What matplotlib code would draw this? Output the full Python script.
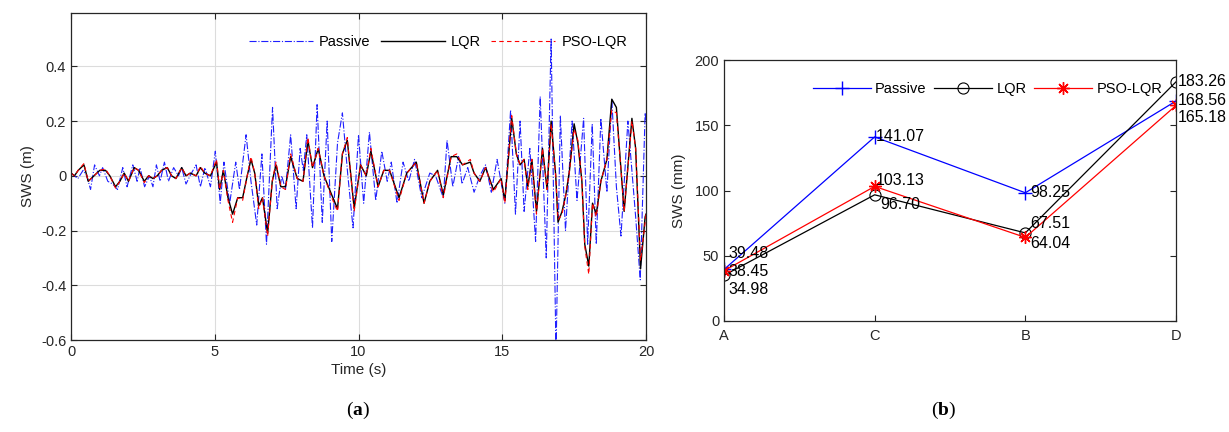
import matplotlib
matplotlib.use("Agg")
import matplotlib.pyplot as plt
import numpy as np

plt.rcParams['font.family'] = ['Liberation Sans', 'DejaVu Sans']
plt.rcParams['mathtext.fontset'] = 'custom'
plt.rcParams['mathtext.rm'] = 'Liberation Serif'
plt.rcParams['mathtext.bf'] = 'Liberation Serif:bold'

# ---------------- (a) time history ----------------
passive_t = [0.0, 0.12, 0.24, 0.42, 0.55, 0.68, 0.82, 0.99, 1.1, 1.28, 1.45, 1.62, 1.8, 1.95,
             2.15, 2.3, 2.4, 2.56, 2.73, 2.85, 2.97, 3.1, 3.25, 3.39, 3.57, 3.74, 3.85, 4.0,
             4.14, 4.35, 4.5, 4.66, 4.85, 5.02, 5.19, 5.32, 5.52, 5.73, 5.86, 6.09, 6.26,
             6.46, 6.64, 6.80, 7.01, 7.17, 7.33, 7.46, 7.64, 7.83, 7.97, 8.08, 8.2, 8.40,
             8.56, 8.74, 8.91, 9.07, 9.27, 9.44, 9.63, 9.81, 10.0, 10.18, 10.38, 10.6,
             10.81, 11.0, 11.14, 11.34, 11.55, 11.75, 11.95, 12.2, 12.48, 12.68, 12.95,
             13.08, 13.28, 13.48, 13.6, 13.8, 14.02, 14.22, 14.42, 14.62, 14.82, 15.09,
             15.29, 15.46, 15.62, 15.76, 15.96, 16.16, 16.32, 16.53, 16.70, 16.87, 17.02,
             17.20, 17.43, 17.6, 17.83, 17.97, 18.13, 18.27, 18.43, 18.64, 18.81, 18.97,
             19.13, 19.37, 19.64, 19.80, 19.97, 20.0]
passive_v = [0.01, 0.0, -0.01, 0.02, 0.0, -0.05, 0.04, 0.0, 0.03, -0.02, -0.03, -0.05, 0.03, -0.04,
             0.04, -0.02, 0.03, -0.04, 0.0, -0.04, 0.04, -0.02, 0.05, -0.02, 0.03, 0.0, 0.03, -0.03,
             0.0, 0.04, -0.04, 0.03, -0.04, 0.09, -0.1, 0.05, -0.1, 0.05, -0.05, 0.15, -0.02,
             -0.18, 0.08, -0.25, 0.25, -0.12, 0.0, -0.05, 0.15, -0.12, 0.1, 0.02, 0.15, -0.19,
             0.26, -0.17, 0.2, -0.24, 0.12, 0.23, 0.0, -0.19, 0.15, -0.1, 0.16, -0.09,
             0.09, -0.02, 0.05, -0.1, 0.05, -0.02, 0.06, -0.08, 0.01, 0.0, -0.08,
             0.13, -0.04, 0.07, -0.03, 0.03, -0.06, 0.0, 0.04, -0.06, 0.06, -0.1,
             0.24, -0.14, 0.2, -0.13, 0.1, -0.24, 0.29, -0.3, 0.5, -0.65, 0.22,
             -0.2, 0.2, -0.09, 0.21, -0.25, 0.19, -0.25, 0.21, -0.06, 0.28, -0.04,
             -0.22, 0.2, -0.15, -0.38, 0.23, 0.2]

ctrl_t = [0.0, 0.12, 0.25, 0.45, 0.6, 0.8, 1.0, 1.2, 1.35, 1.55, 1.7, 1.85, 2.0, 2.2, 2.35,
          2.55, 2.7, 2.85, 3.0, 3.15, 3.35, 3.5, 3.65, 3.85, 4.0, 4.15, 4.35, 4.5, 4.65, 4.85,
          5.06, 5.17, 5.3, 5.46, 5.62, 5.8, 5.97, 6.13, 6.26, 6.39, 6.53, 6.66, 6.84, 7.0,
          7.13, 7.3, 7.46, 7.64, 7.87, 8.07, 8.24, 8.4, 8.6, 8.8, 9.07, 9.27, 9.44, 9.61,
          9.85, 10.07, 10.27, 10.43, 10.68, 10.88, 11.08, 11.41, 11.68, 12.01, 12.28, 12.48,
          12.75, 12.95, 13.22, 13.42, 13.62, 13.89, 14.02, 14.22, 14.42, 14.69, 14.96, 15.09,
          15.33, 15.49, 15.62, 15.76, 15.89, 16.03, 16.19, 16.40, 16.56, 16.70, 16.86, 16.94,
          17.08, 17.21, 17.34, 17.50, 17.63, 17.77, 17.87, 18.01, 18.14, 18.27, 18.43, 18.64,
          18.81, 18.97, 19.11, 19.24, 19.51, 19.64, 19.81, 19.97, 20.0]
lqr_v = [0.01, 0.0, 0.02, 0.04, -0.02, 0.0, 0.02, 0.02, 0.0, -0.04, -0.02, 0.01, -0.02, 0.03, 0.02,
         -0.02, 0.0, -0.01, 0.0, 0.02, 0.03, 0.0, -0.01, 0.03, 0.0, 0.01, 0.0, 0.03, 0.01, 0.0,
         0.05, -0.05, 0.02, -0.08, -0.14, -0.08, -0.08, 0.0, 0.06, 0.01, -0.11, -0.08, -0.21, -0.02,
         0.04, -0.04, -0.04, 0.07, -0.01, -0.02, 0.13, 0.03, 0.1, 0.0, -0.07, -0.12, 0.08, 0.13,
         -0.12, 0.04, 0.0, 0.09, -0.04, 0.02, 0.02, -0.08, 0.01, 0.05, -0.1, -0.02,
         0.02, -0.07, 0.07, 0.07, 0.04, 0.05, 0.01, -0.02, 0.03, -0.05, -0.01, -0.09,
         0.21, 0.08, 0.04, 0.06, -0.04, 0.06, -0.13, 0.1, -0.05, 0.2, 0.0, -0.17,
         -0.13, -0.07, 0.02, 0.19, 0.12, -0.02, -0.25, -0.33, -0.1, -0.14, -0.02, 0.06,
         0.28, 0.25, 0.05, -0.13, 0.21, 0.1, -0.34, -0.15, -0.14]
pso_v = [0.01, 0.0, 0.02, 0.045, -0.02, 0.0, 0.02, 0.025, 0.0, -0.045, -0.02, 0.01, -0.02, 0.03, 0.02,
         -0.025, 0.0, -0.01, 0.0, 0.02, 0.03, 0.0, -0.01, 0.03, 0.0, 0.01, 0.0, 0.035, 0.01, 0.0,
         0.06, -0.05, 0.02, -0.09, -0.17, -0.08, -0.09, 0.0, 0.07, 0.01, -0.12, -0.08, -0.22, -0.02,
         0.05, -0.04, -0.05, 0.08, -0.01, -0.02, 0.14, 0.03, 0.1, 0.0, -0.08, -0.13, 0.08, 0.14,
         -0.13, 0.04, 0.0, 0.1, -0.04, 0.02, 0.02, -0.09, 0.01, 0.05, -0.1, -0.02,
         0.02, -0.08, 0.07, 0.08, 0.04, 0.06, 0.01, -0.02, 0.03, -0.06, -0.01, -0.1,
         0.22, 0.08, 0.04, 0.06, -0.05, 0.06, -0.14, 0.1, -0.05, 0.19, 0.0, -0.16,
         -0.14, -0.07, 0.02, 0.17, 0.13, -0.02, -0.26, -0.36, -0.1, -0.15, -0.02, 0.06,
         0.24, 0.23, 0.05, -0.13, 0.2, 0.1, -0.31, -0.17, -0.14]

# ---------------- (b) peak values ----------------
cases = ['A', 'C', 'B', 'D']
peak_passive = [39.48, 141.07, 98.25, 168.56]
peak_lqr = [34.98, 96.70, 67.51, 183.26]
peak_pso = [38.45, 103.13, 64.04, 165.18]

W, H = 1229, 432
fig = plt.figure(figsize=(W / 100, H / 100), dpi=100)

def px_axes(x0, y0, x1, y1):
    return fig.add_axes([x0 / W, 1 - y1 / H, (x1 - x0) / W, (y1 - y0) / H])

tick_fs = 10.5

# ---- left axes
ax1 = px_axes(71, 13, 646, 340)
ax1.plot(passive_t, passive_v, color='#1f1fff', linestyle='-.', lw=0.8, label='Passive')
ax1.plot(ctrl_t, lqr_v, color='black', linestyle='-', lw=1.0, label='LQR')
ax1.plot(ctrl_t, pso_v, color='red', linestyle=(0, (4, 3)), lw=0.8, label='PSO-LQR')
ax1.set_xlim(0, 20)
ax1.set_ylim(-0.6, 0.595)
ax1.set_xticks([0, 5, 10, 15, 20])
ax1.set_yticks([-0.6, -0.4, -0.2, 0, 0.2, 0.4])
ax1.set_yticklabels(['-0.6', '-0.4', '-0.2', '0', '0.2', '0.4'])
ax1.grid(True, color='#dcdcdc', lw=0.8)
ax1.set_axisbelow(True)
ax1.tick_params(direction='in', top=True, right=True, labelsize=tick_fs, length=4, width=0.8,
                colors='#262626')
for s in ax1.spines.values():
    s.set_linewidth(0.9)
    s.set_color('#262626')
ax1.set_xlabel('Time (s)', fontsize=11, color='#262626', labelpad=3)
ax1.set_ylabel('SWS (m)', fontsize=11, color='#262626', labelpad=4)
ax1.legend(loc='upper right', ncol=3, frameon=False, fontsize=10.5, handlelength=4.4,
           columnspacing=0.7, handletextpad=0.4, bbox_to_anchor=(0.985, 0.965), borderaxespad=0.3)

# ---- right axes
ax2 = px_axes(724, 60, 1176, 321)
xi = np.arange(len(cases))
ax2.plot(xi, peak_passive, color='blue', lw=0.9, marker='+', ms=10, mew=1.0, label='Passive')
ax2.plot(xi, peak_lqr, color='black', lw=0.9, marker='o', ms=8, mfc='none', mew=0.8, label='LQR')
ax2.plot(xi, peak_pso, color='red', lw=0.9, marker=(8, 2, 0), ms=9, mew=1.0, label='PSO-LQR')
ax2.set_xlim(0, 3)
ax2.set_ylim(0, 200)
ax2.set_xticks(xi)
ax2.set_xticklabels(cases)
ax2.set_yticks([0, 50, 100, 150, 200])
ax2.tick_params(direction='in', top=False, right=True, labelsize=tick_fs, length=4, width=0.8,
                colors='#262626')
ax2.tick_params(axis='x', pad=6)
for s in ax2.spines.values():
    s.set_linewidth(0.9)
    s.set_color('#262626')
ax2.set_ylabel('SWS (mm)', fontsize=11, color='#262626', labelpad=6)
ax2.legend(loc='upper right', ncol=3, frameon=False, fontsize=10.5, handlelength=4.0,
           columnspacing=0.5, handletextpad=0.3, bbox_to_anchor=(0.99, 0.95), borderaxespad=0.2)

# value labels (position offsets chosen to match the figure)
lab_fs = 11.5
label_pos = {
    (0, 0): (0.03, 51.5), (0, 2): (0.03, 38.0), (0, 1): (0.03, 24.5),
    (1, 0): (0.005, 141.0), (1, 2): (0.01, 108.0), (1, 1): (0.04, 89.0),
    (2, 0): (0.03, 98.5), (2, 1): (0.03, 75.0), (2, 2): (0.03, 59.5),
    (3, 1): (0.01, 183.3), (3, 0): (0.01, 169.0), (3, 2): (0.01, 156.0),
}
series = [peak_passive, peak_lqr, peak_pso]
for (i, k), (dx, yv) in label_pos.items():
    ax2.text(xi[i] + dx, yv, f'{series[k][i]:.2f}', fontsize=lab_fs, ha='left', va='center',
             color='black', clip_on=False)

fig.text(358 / W, 1 - 410 / H, r'$\mathrm{(}\mathbf{a}\mathrm{)}$', fontsize=14, ha='center', va='center')
fig.text(944 / W, 1 - 410 / H, r'$\mathrm{(}\mathbf{b}\mathrm{)}$', fontsize=14, ha='center', va='center')

fig.savefig('out.png', dpi=100)
